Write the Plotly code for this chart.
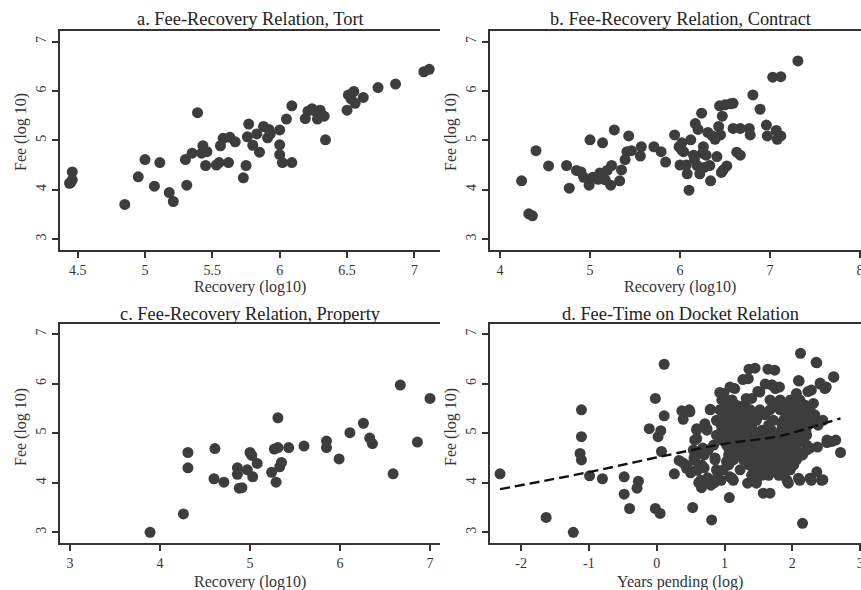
import plotly.graph_objects as go

# ---------------- data ----------------
tort_recovery = [4.44, 4.46, 4.46, 4.45, 4.85, 4.95, 5.00, 5.07, 5.11, 5.18, 5.21, 5.30, 5.31, 5.35,
                 5.39, 5.42, 5.43, 5.45, 5.46, 5.53, 5.55, 5.56, 5.58, 5.62, 5.63, 5.67, 5.73, 5.75,
                 5.76, 5.77, 5.80, 5.83, 5.85, 5.88, 5.92, 5.93, 5.91, 6.00, 6.00, 6.00, 6.02, 6.05,
                 6.09, 6.09, 6.19, 6.21, 6.24, 6.27, 6.28, 6.30, 6.33, 6.34, 6.50, 6.51, 6.53, 6.55,
                 6.56, 6.62, 6.73, 6.86, 7.07, 7.11]
tort_fee = [4.13, 4.20, 4.36, 4.15, 3.70, 4.26, 4.61, 4.07, 4.55, 3.94, 3.76, 4.61, 4.09, 4.74,
            5.56, 4.74, 4.89, 4.49, 4.77, 4.50, 4.55, 4.89, 5.04, 4.55, 5.06, 4.97, 4.24, 4.49,
            5.07, 5.33, 4.90, 5.13, 4.76, 5.28, 5.22, 5.13, 5.05, 4.91, 5.21, 4.71, 4.55, 5.43,
            5.70, 4.55, 5.44, 5.59, 5.64, 5.58, 5.43, 5.61, 5.49, 5.01, 5.61, 5.92, 5.84, 5.99,
            5.75, 5.87, 6.07, 6.14, 6.39, 6.44]

contract_recovery = [4.24, 4.32, 4.36, 4.40, 4.54, 4.74, 4.77, 4.85, 4.90, 4.93, 4.99, 5.00, 5.03,
                     5.09, 5.11, 5.14, 5.17, 5.19, 5.23, 5.24, 5.27, 5.33, 5.35, 5.39, 5.41, 5.43,
                     5.46, 5.56, 5.57, 5.71, 5.79, 5.84, 5.94, 5.99, 6.00, 6.02, 6.04, 6.07, 6.08,
                     6.10, 6.12, 6.15, 6.17, 6.19, 6.20, 6.22, 6.24, 6.25, 6.26, 6.29, 6.31, 6.33,
                     6.34, 6.36, 6.39, 6.41, 6.43, 6.44, 6.45, 6.47, 6.48, 6.50, 6.52, 6.56, 6.59,
                     6.59, 6.63, 6.67, 6.67, 6.77, 6.78, 6.81, 6.89, 6.96, 6.97, 7.03, 7.07, 7.08,
                     7.12, 7.12, 7.31, 5.12, 5.14, 6.02, 6.27, 6.46, 6.16]
contract_fee = [4.18, 3.51, 3.47, 4.79, 4.48, 4.49, 4.03, 4.39, 4.36, 4.25, 4.09, 5.01, 4.25,
                4.21, 4.34, 4.95, 4.20, 4.39, 4.09, 4.49, 5.21, 4.18, 4.40, 4.61, 4.77, 5.09,
                4.79, 4.68, 4.87, 4.87, 4.77, 4.56, 5.11, 4.87, 4.50, 4.95, 4.77, 4.50, 4.32,
                3.99, 5.01, 4.70, 5.34, 4.49, 5.22, 4.32, 5.55, 4.74, 4.87, 4.70, 5.16, 4.49,
                4.18, 5.09, 5.02, 4.67, 5.28, 5.70, 5.11, 5.49, 4.40, 5.72, 4.48, 5.74, 5.75,
                5.24, 4.76, 4.70, 5.24, 5.24, 5.11, 5.92, 5.63, 5.31, 5.09, 6.28, 5.20, 5.02,
                6.29, 5.09, 6.61, 4.28, 4.22, 4.80, 4.45, 4.35, 4.62]

property_recovery = [3.89, 4.26, 4.31, 4.31, 4.60, 4.61, 4.71, 4.86, 4.86, 4.88, 4.91, 4.97, 5.00,
                     5.02, 5.03, 5.08, 5.24, 5.27, 5.29, 5.31, 5.31, 5.33, 5.35, 5.43, 5.60, 5.85,
                     5.85, 5.99, 6.11, 6.26, 6.33, 6.36, 6.59, 6.67, 6.86, 7.00]
property_fee = [3.00, 3.37, 4.61, 4.30, 4.08, 4.69, 4.01, 4.30, 4.17, 3.89, 3.90, 4.26, 4.61,
                4.55, 4.12, 4.39, 4.21, 4.68, 4.01, 4.71, 5.31, 4.32, 4.41, 4.71, 4.74, 4.84,
                4.71, 4.48, 5.01, 5.20, 4.90, 4.79, 4.18, 5.97, 4.82, 5.70]

years_pending = [-2.31, -1.63, -1.23, -1.11, -1.11, -1.13, -1.11, -0.99, -0.80, -0.48, -0.48, -0.40,
                 -0.29, -0.27, -0.11, -0.02, -0.02, 0.05, 0.02, 0.06, 0.07, 0.11, 0.11, 0.26,
                 0.37, 0.39, 0.48, 0.33, 0.39, 0.44, 0.53, 0.59, 0.59, 0.59, 0.65, 0.66, 0.71,
                 0.74, 0.79, 0.80, 0.81, 0.79, 0.84, 0.86, 0.88, 0.91, 0.98, 0.99, 1.03, 1.06,
                 1.07, 1.08, 1.11, 1.13, 1.15, 1.18, 1.23, 1.25, 1.28, 1.33, 1.34, 1.35, 1.38,
                 1.40, 1.45, 1.47, 1.52, 1.57, 1.67, 1.74, 1.70, 1.81, 1.94, 2.09, 2.10, 2.12,
                 2.15, 2.15, 2.26, 2.26, 2.28, 2.31, 2.36, 2.36, 2.37, 2.41, 2.45, 2.50, 2.51,
                 2.58, 2.61, 2.71,
                 1.36, 1.64, 2.35, 2.61, 1.27, 1.60, 1.70, 1.75, 2.09, 2.41, 2.48, 1.08, 0.93,
                 1.49, 2.23, 1.32, 2.06, 0.79, 0.49,
                 0.96, 1.11, 1.67, 1.82, 1.97, 2.11,
                 0.93, 1.08, 1.23, 1.38, 1.52, 1.67, 1.82, 1.97, 2.11, 2.26,
                 0.88, 1.03, 1.18, 1.33, 1.47, 1.72, 1.87, 2.01, 2.16, 2.31, 2.45,
                 0.59, 0.74, 0.96, 1.10, 1.25, 1.40, 1.55, 1.69, 1.84, 1.99, 2.14,
                 0.56, 0.96, 1.10, 1.25, 1.40, 1.55, 1.69, 1.84, 1.99, 2.14, 2.51, 2.64,
                 0.54, 0.76, 1.13, 1.28, 1.43, 1.62, 1.77, 1.92, 2.06, 2.21,
                 0.56, 0.86, 1.13, 1.28, 1.43, 1.62, 1.77, 1.92, 2.06,
                 0.59, 0.98, 1.43, 1.57, 1.72, 1.87, 1.97,
                 0.71, 1.13, 1.47, 1.92, 2.11, 2.28, 2.43,
                 1.55, 1.65, 1.75, 1.60, 1.70, 1.80, 1.50, 1.65, 1.85, 1.45, 1.60, 1.70, 1.40,
                 1.30, 1.50, 1.20, 1.90, 2.00, 1.85, 1.95, 2.05, 1.35, 1.25, 1.15, 1.05, 2.20, 2.10,
                 1.02, 1.16, 1.30, 1.74, 1.90, 2.04, 2.18,
                 1.00, 1.15, 1.30, 1.45, 1.60, 1.90, 2.04, 2.19, 2.33,
                 0.95, 1.10, 1.25, 1.40, 1.65, 1.94, 2.08, 2.23, 2.38,
                 0.88, 1.03, 1.18, 1.33, 1.47, 1.62, 1.77, 1.91, 2.06, 2.21,
                 1.03, 1.18, 1.33, 1.47, 1.62, 1.77, 1.91, 2.06, 2.21,
                 0.70, 1.06, 1.21, 1.36, 1.52, 1.70, 1.85, 1.99, 2.14,
                 0.66, 1.06, 1.36, 1.52, 1.66, 1.80, 1.95, 2.02,
                 1.40, 1.55, 1.65, 1.80, 1.88,
                 0.45, 0.50, 0.60, 0.70, 0.75, 0.62, 0.55, 0.68, 0.90, 0.95, 0.85]
docket_fee = [4.18, 3.30, 3.00, 5.47, 4.93, 4.59, 4.46, 4.14, 4.08, 4.12, 3.77, 3.48,
              3.89, 4.03, 5.09, 5.70, 3.48, 3.38, 4.93, 5.05, 4.63, 5.35, 6.39, 4.18,
              5.45, 5.28, 5.47, 4.45, 4.40, 4.29, 3.50, 5.09, 4.89, 4.56, 4.05, 3.90, 5.19,
              5.09, 4.05, 3.95, 3.25, 5.47, 4.76, 4.50, 4.26, 5.25, 4.96, 5.80, 4.43, 4.70,
              3.70, 4.12, 4.09, 5.60, 5.90, 5.43, 4.26, 5.28, 4.82, 5.22, 3.99, 6.10, 4.36,
              5.70, 6.31, 3.99, 5.83, 3.79, 3.79, 6.27, 5.97, 5.93, 3.99, 4.09, 6.05, 6.61,
              3.18, 4.56, 4.09, 4.70, 5.87, 5.60, 6.42, 4.22, 4.72, 5.99, 4.06, 5.93, 4.81,
              4.83, 6.13, 4.61,
              6.29, 6.29, 6.43, 6.14, 6.08, 5.99, 5.97, 5.90, 6.06, 6.01, 5.90, 5.93, 5.82,
              5.84, 5.84, 5.70, 5.80, 5.48, 5.43,
              5.67, 5.67, 5.67, 5.67, 5.67, 5.67,
              5.47, 5.47, 5.47, 5.47, 5.47, 5.47, 5.47, 5.47, 5.47, 5.47,
              5.26, 5.26, 5.26, 5.26, 5.26, 5.26, 5.26, 5.26, 5.26, 5.26, 5.26,
              5.06, 5.06, 5.06, 5.06, 5.06, 5.06, 5.06, 5.06, 5.06, 5.06, 5.06,
              4.86, 4.86, 4.86, 4.86, 4.86, 4.86, 4.86, 4.86, 4.86, 4.86, 4.86, 4.86,
              4.66, 4.66, 4.66, 4.66, 4.66, 4.66, 4.66, 4.66, 4.66, 4.66,
              4.46, 4.46, 4.46, 4.46, 4.46, 4.46, 4.46, 4.46, 4.46,
              4.26, 4.26, 4.26, 4.26, 4.26, 4.26, 4.26,
              4.05, 4.05, 4.05, 4.05, 4.05, 4.05, 4.05,
              4.55, 4.75, 4.55, 4.40, 4.35, 4.70, 4.70, 4.60, 4.50, 4.50, 4.90, 5.00, 5.10,
              5.30, 5.35, 5.55, 5.50, 5.60, 5.15, 4.80, 4.95, 4.75, 5.00, 5.20, 5.40, 5.05, 4.60,
              5.57, 5.57, 5.57, 5.57, 5.57, 5.57, 5.57,
              5.37, 5.37, 5.37, 5.37, 5.37, 5.37, 5.37, 5.37, 5.37,
              5.16, 5.16, 5.16, 5.16, 5.16, 5.16, 5.16, 5.16, 5.16,
              4.96, 4.96, 4.96, 4.96, 4.96, 4.96, 4.96, 4.96, 4.96, 4.96,
              4.76, 4.76, 4.76, 4.76, 4.76, 4.76, 4.76, 4.76, 4.76,
              4.56, 4.56, 4.56, 4.56, 4.56, 4.56, 4.56, 4.56, 4.56,
              4.36, 4.36, 4.36, 4.36, 4.36, 4.36, 4.36, 4.36,
              4.15, 4.15, 4.15, 4.15, 4.15,
              4.35, 4.20, 4.25, 4.30, 4.10, 4.00, 4.50, 4.70, 4.20, 4.05, 4.00]

fit_years = [-2.31, -0.98, 0.00, 0.98, 1.77, 2.06, 2.71]
fit_fee = [3.87, 4.22, 4.51, 4.78, 4.93, 5.03, 5.30]

titles = ["a. Fee-Recovery Relation, Tort", "b. Fee-Recovery Relation, Contract",
          "c. Fee-Recovery Relation, Property", "d. Fee-Time on Docket Relation"]
x_titles = ["Recovery (log10)", "Recovery (log10)", "Recovery (log10)", "Years pending (log)"]
y_title = "Fee (log 10)"

x_ticks = [[4.5, 5, 5.5, 6, 6.5, 7], [4, 5, 6, 7, 8], [3, 4, 5, 6, 7], [-2, -1, 0, 1, 2, 3]]
x_tick_text = [["4.5", "5", "5.5", "6", "6.5", "7"], ["4", "5", "6", "7", "8"],
               ["3", "4", "5", "6", "7"], ["-2", "-1", "0", "1", "2", "3"]]
y_ticks = [3, 4, 5, 6, 7]

# ---------------- figure ----------------
W, H = 861, 590
FONT = "Liberation Serif"
INK = "#333333"
DOT = "#3d3d3d"

def px_x(p):
    return p / W

def px_y(p):
    return 1 - p / H

x_domains = [(60, 440), (490, 861), (60, 440), (490, 861)]
y_domains = [(30.7, 250), (30.7, 250), (324.3, 543.3), (324.3, 543.3)]
x_ranges = [[4.369, 7.19], [3.889, 8.011], [2.889, 7.111], [-2.458, 3.012]]
y_ranges = [[2.777, 7.222], [2.777, 7.222], [2.778, 7.196], [2.778, 7.196]]

series = [(tort_recovery, tort_fee), (contract_recovery, contract_fee),
          (property_recovery, property_fee), (years_pending, docket_fee)]

fig = go.Figure()
layout = dict(width=W, height=H, margin=dict(l=0, r=0, t=0, b=0, autoexpand=False),
              paper_bgcolor="white", plot_bgcolor="white", showlegend=False,
              font=dict(family=FONT, color=INK))
annotations = []

for i in range(4):
    n = "" if i == 0 else str(i + 1)
    xs, ys = series[i]
    fig.add_trace(go.Scatter(x=xs, y=ys, mode="markers", xaxis="x" + n, yaxis="y" + n,
                             marker=dict(size=11, color=DOT, line=dict(width=0))))
    x0, x1 = x_domains[i]
    y0, y1 = y_domains[i]
    layout["xaxis" + n] = dict(domain=[px_x(x0), px_x(x1)], range=x_ranges[i], anchor="y" + n,
                               tickvals=x_ticks[i], ticktext=x_tick_text[i],
                               ticks="outside", ticklen=6, tickwidth=2,
                               tickcolor=INK, showline=True, linewidth=2, linecolor=INK,
                               mirror=True, showgrid=False, zeroline=False,
                               ticklabeloverflow="allow", automargin=False,
                               tickfont=dict(size=14, family=FONT, color=INK))
    layout["yaxis" + n] = dict(domain=[px_y(y1), px_y(y0)], range=y_ranges[i], anchor="x" + n,
                               tickvals=y_ticks, ticks="outside", ticklen=6, tickwidth=2,
                               tickcolor=INK, showline=True, linewidth=2, linecolor=INK,
                               mirror=False, showgrid=False, zeroline=False, tickangle=-90,
                               automargin=False,
                               tickfont=dict(size=14, family=FONT, color=INK))
    cx = x0 + 190
    title_y = 19 if i < 2 else 314
    xt_y = 287 if i < 2 else 582
    yt_x = 21 if i in (0, 2) else 451
    yt_y = 132 if i < 2 else 427
    annotations.append(dict(text=titles[i], x=px_x(cx), y=px_y(title_y), xref="paper", yref="paper",
                            showarrow=False, xanchor="center", yanchor="middle",
                            font=dict(size=18.4, family=FONT, color="#222222")))
    annotations.append(dict(text=x_titles[i], x=px_x(cx), y=px_y(xt_y), xref="paper", yref="paper",
                            showarrow=False, xanchor="center", yanchor="middle",
                            font=dict(size=16, family=FONT, color=INK)))
    annotations.append(dict(text=y_title, x=px_x(yt_x), y=px_y(yt_y), xref="paper", yref="paper",
                            showarrow=False, xanchor="center", yanchor="middle", textangle=-90,
                            font=dict(size=16, family=FONT, color=INK)))

fig.add_trace(go.Scatter(x=fit_years, y=fit_fee, mode="lines", xaxis="x4", yaxis="y4",
                         line=dict(color="#111111", width=2.4, dash="10px,5px", shape="spline")))

layout["annotations"] = annotations
fig.update_layout(**layout)
fig.write_html("out.html", config={"displayModeBar": False},
               post_script="document.body.style.margin='0';document.body.style.overflow='hidden';")
